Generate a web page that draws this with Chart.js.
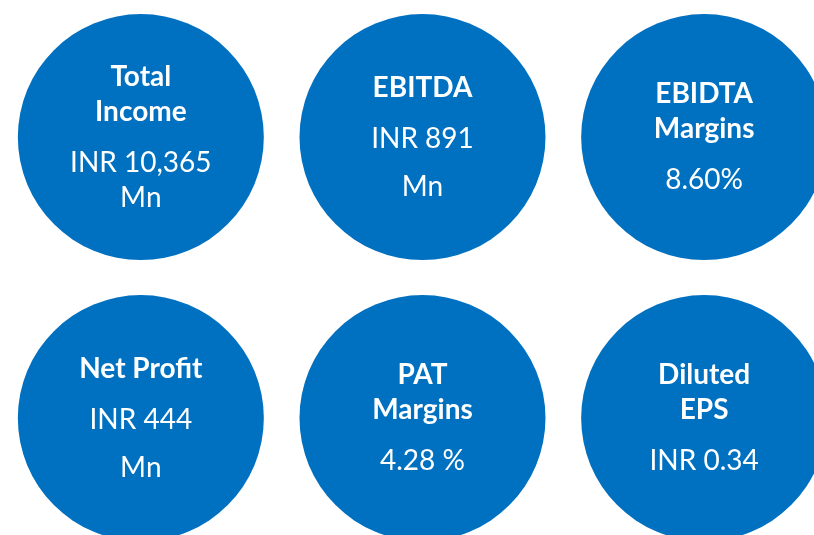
<!DOCTYPE html>
<html>
<head>
<meta charset="utf-8">
<script src="https://cdn.jsdelivr.net/npm/chart.js@4"></script>
<style>
  html, body { margin: 0; padding: 0; background: #ffffff; }
  #wrap { width: 814px; height: 535px; position: relative; }
</style>
</head>
<body>
<div id="wrap"><canvas id="kpis"></canvas></div>
<script>
// KPI tiles: grid column / row, heading and figure
const titles = [['Total', 'Income'], ['EBITDA'], ['EBIDTA', 'Margins'], ['Net Profit'], ['PAT', 'Margins'], ['Diluted', 'EPS']];
const values = ['INR 10,365 Mn', 'INR 891\nMn', '8.60%', 'INR 444\nMn', '4.28 %', 'INR 0.34'];
const cols = [0, 1, 2, 0, 1, 2];
const rows = [0, 0, 0, 1, 1, 1];

const BLUE = '#0070C0';

// splits a figure into lines: '\n' is a paragraph break, long text wraps
function valueLines(ctx, text, maxW) {
    const out = [];
    text.split('\n').forEach(function(para, pi) {
        let line = '';
        let first = true;
        para.split(' ').forEach(function(w) {
            const test = line ? line + ' ' + w : w;
            if (line && ctx.measureText(test).width > maxW) {
                out.push({ text: line, para: first && pi > 0 });
                first = false;
                line = w;
            } else {
                line = test;
            }
        });
        out.push({ text: line, para: first && pi > 0 });
    });
    return out;
}

const labelPlugin = {
    id: 'kpiLabels',
    afterDatasetsDraw(chart) {
        const ctx = chart.ctx;
        const meta = chart.getDatasetMeta(0);
        ctx.save();
        ctx.fillStyle = '#ffffff';
        ctx.textAlign = 'center';
        ctx.textBaseline = 'middle';
        meta.data.forEach(function(pt, i) {
            const lines = [];
            let y = 0;
            titles[i].forEach(function(t, k) {
                if (k > 0) y += 35;
                lines.push({ text: t, bold: true, y: y });
            });
            ctx.font = '28px Lato';
            const vl = valueLines(ctx, values[i], 150);
            vl.forEach(function(v, k) {
                y += k === 0 ? 51 : (v.para ? 48 : 35);
                lines.push({ text: v.text, bold: false, y: y });
            });
            const shift = pt.y - y / 2;
            lines.forEach(function(l) {
                ctx.font = (l.bold ? 'bold ' : '') + '28px Lato';
                ctx.fillText(l.text, pt.x, shift + l.y);
            });
        });
        ctx.restore();
    }
};

new Chart(document.getElementById('kpis'), {
    type: 'bubble',
    data: {
        datasets: [{
            data: cols.map(function(c, i) { return { x: c, y: rows[i], r: 123 }; }),
            backgroundColor: BLUE,
            borderWidth: 0,
            hoverRadius: 0,
            clip: false
        }]
    },
    options: {
        responsive: true,
        maintainAspectRatio: false,
        animation: false,
        events: [],
        layout: { padding: 0, autoPadding: false },
        plugins: { legend: { display: false }, tooltip: { enabled: false } },
        scales: {
            x: { type: 'linear', display: false, min: -0.5, max: 2.39 },
            y: { type: 'linear', display: false, reverse: true, min: -0.488, max: 1.416 }
        }
    },
    plugins: [labelPlugin]
});
</script>
</body>
</html>
